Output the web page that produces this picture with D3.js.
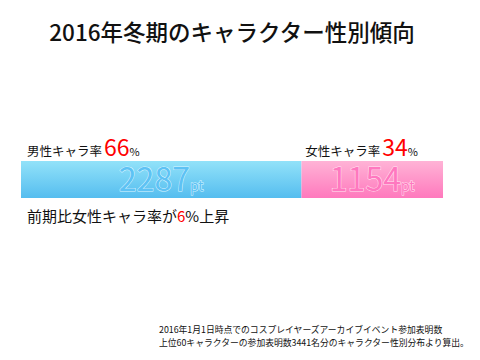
<!DOCTYPE html>
<html lang="ja">
<head>
<meta charset="utf-8">
<title>2016年冬期のキャラクター性別傾向</title>
<script src="https://d3js.org/d3.v7.min.js"></script>
<style>
  body { margin: 0; background: white; }
  text { font-family: "Noto Sans CJK JP", "Noto Sans", sans-serif; }
</style>
</head>
<body>
<div id="chart"></div>
<script>
// data
var categories = ["男性キャラ率", "女性キャラ率"];
var points = [2287, 1154];
var percents = [66, 34];
var change = 6;
var notes = [
  "2016年1月1日時点でのコスプレイヤーズアーカイブイベント参加表明数",
  "上位60キャラクターの参加表明数3441名分のキャラクター性別分布より算出。"
];

var w = 480, h = 360;
var svg = d3.select("#chart").append("svg").attr("width", w).attr("height", h);

var defs = svg.append("defs");
var grads = [["#92e2f9", "#55bdef"], ["#ffb3d6", "#ff79bd"]];
grads.forEach(function(g, i) {
  var lg = defs.append("linearGradient").attr("id", "g" + i)
    .attr("x1", 0).attr("y1", 0).attr("x2", 0).attr("y2", 1);
  lg.append("stop").attr("offset", "0%").attr("stop-color", g[0]);
  lg.append("stop").attr("offset", "100%").attr("stop-color", g[1]);
});
var numFill = ["#5ec2f4", "#ff78bf"];
var numStroke = ["#d6f4ff", "#ffe2f0"];

// title
svg.append("text").attr("x", 232).attr("y", 41).attr("text-anchor", "middle")
  .attr("font-size", 22.5).attr("font-weight", 500).attr("fill", "#111")
  .text("2016年冬期のキャラクター性別傾向");

// stacked bar
var x = d3.scaleLinear().domain([0, d3.sum(points)]).range([21, 443]);
var starts = [0, points[0]];
var barTop = 161, barH = 37;

var seg = svg.selectAll("g.seg").data(points).enter().append("g").attr("class", "seg");
seg.append("rect")
  .attr("x", function(d, i) { return x(starts[i]); })
  .attr("y", barTop)
  .attr("width", function(d, i) { return x(starts[i] + d) - x(starts[i]); })
  .attr("height", barH)
  .attr("fill", function(d, i) { return "url(#g" + i + ")"; });

var num = seg.append("text")
  .attr("x", function(d, i) { return (x(starts[i]) + x(starts[i] + d)) / 2; })
  .attr("y", barTop + 30)
  .attr("text-anchor", "middle")
  .attr("fill", function(d, i) { return numFill[i]; })
  .attr("stroke", function(d, i) { return numStroke[i]; })
  .attr("stroke-width", 1)
  .attr("paint-order", "stroke");
num.append("tspan").attr("font-size", 32).text(function(d) { return d; });
num.append("tspan").attr("font-size", 14).text("pt");

// percent labels
var labels = svg.selectAll("text.lab").data(categories).enter().append("text")
  .attr("class", "lab")
  .attr("x", function(d, i) { return i === 0 ? x(0) + 6 : x(d3.sum(points)) - 25; })
  .attr("y", 156)
  .attr("text-anchor", function(d, i) { return i === 0 ? "start" : "end"; })
  .attr("fill", "#111");
labels.append("tspan").attr("font-size", 12.5).text(function(d) { return d; });
labels.append("tspan").attr("font-size", 23).attr("fill", "#f00").attr("dx", 2)
  .text(function(d, i) { return percents[i]; });
labels.append("tspan").attr("font-size", 11).text("%");

// change note
var c = svg.append("text").attr("x", 27).attr("y", 222).attr("font-size", 15).attr("fill", "#111");
c.append("tspan").text("前期比女性キャラ率が");
c.append("tspan").attr("fill", "#f00").text(change);
c.append("tspan").text("%上昇");

// footnote
svg.selectAll("text.note").data(notes).enter().append("text")
  .attr("class", "note")
  .attr("x", 159).attr("y", function(d, i) { return 333 + i * 13; })
  .attr("font-size", 8.8).attr("fill", "#111")
  .text(function(d) { return d; });
</script>
</body>
</html>
